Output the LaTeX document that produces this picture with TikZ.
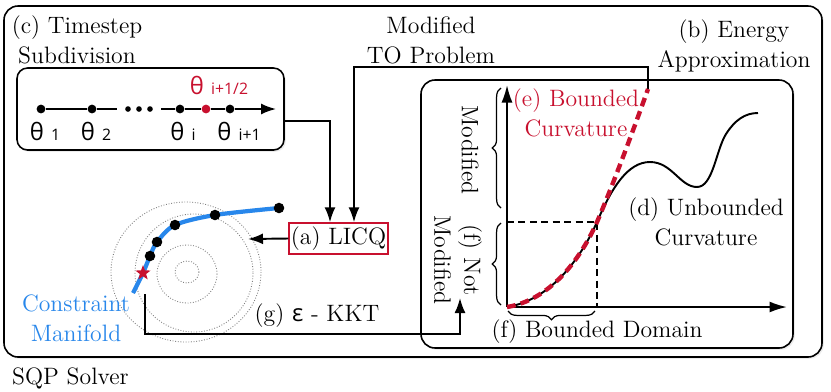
\documentclass[tikz,border=0pt]{standalone}
\usepackage{fontspec}
\newfontfamily\sansth{Open Sans}
\usetikzlibrary{arrows.meta,positioning,shapes.geometric,decorations.pathreplacing,shadows}
\definecolor{licqred}{RGB}{200,16,46}
\definecolor{manblue}{RGB}{40,135,235}
\newcommand\thl[1]{{\sansth θ\hspace{0.3em}{\fontsize{9}{9}\selectfont #1}}}

\begin{document}
\begin{tikzpicture}[x=0.2mm,y=-0.2mm,
  font=\fontsize{13.5}{17}\selectfont,
  >={Latex[length=3mm,width=2.2mm]},
  panel/.style={draw,line width=0.9pt,fill=white,
    drop shadow={opacity=0.15,shadow xshift=1pt,shadow yshift=-1pt}},
  tdot/.style={circle,fill,inner sep=0pt,minimum size=5pt},
  cdot/.style={circle,fill,inner sep=0pt,minimum size=6pt},
  conn/.style={line width=1.1pt,->},
  axis/.style={line width=1.1pt,-{Latex[length=3.5mm,width=2.2mm]}},
  lvl/.style={gray,densely dotted,line width=0.5pt},
  brc/.style={decorate,decoration={brace,amplitude=5pt},line width=0.7pt}]
\useasboundingbox (0,0) rectangle (831,391);
% Panneaux
\draw[panel,rounded corners=8pt] (4,6) rectangle (822,357);
\draw[panel,rounded corners=8pt] (421,80) rectangle (793,348);
\node[panel,rounded corners=6pt,minimum width=53.4mm,minimum height=16.4mm] (tsbox) at (150.5,109) {};
\node[draw=licqred,line width=0.8pt,fill=white,minimum width=19.8mm,minimum height=6.2mm,inner sep=1pt] (licq) at (338.5,238.5) {(a) LICQ};
% Titres
\node[align=center] (ctitle) at (77,40) {(c) Timestep\\Subdivision};
\node[align=center] (totitle) at (431,40) {Modified\\TO Problem};
\node[align=center] (btitle) at (734,46) {(b) Energy\\Approximation};
\node[anchor=west] (sqp) at (6,378) {SQP Solver};
% Subdivision du pas de temps
\node[tdot] (t1) at (41,109) {};
\node[tdot] (t2) at (92,109) {};
\coordinate (gapl) at (117,109);
\coordinate (gapr) at (161,109);
\node[tdot] (ti) at (180,109) {};
\node[tdot,fill=licqred] (th) at (206,109) {};
\node[tdot] (tj) at (230,109) {};
\coordinate (tend) at (276,109);
\draw[line width=1pt] (t1) -- (t2) -- (gapl);
\draw[line width=1pt,->] (gapr) -- (ti) -- (th) -- (tj) -- (tend);
\foreach \x in {128,139,150} \fill (\x,109) circle (1.6pt);
\node[below=1pt of t1,xshift=0.8mm] (l1) {\thl{1}};
\node[below=1pt of t2,xshift=0.8mm] (l2) {\thl{2}};
\node[below=1pt of ti,xshift=0.6mm] (li) {\thl{i}};
\node[below=1pt of tj,xshift=1.8mm] (lj) {\thl{i+1}};
\node[above=2pt of th,xshift=2.6mm,text=licqred] (lh) {\thl{i+1/2}};
% Variete de contraintes
\draw[lvl] (187,272) ellipse (12 and 11);
\draw[lvl] (187,274) ellipse (30 and 29);
\draw[lvl] (194,273) ellipse (59 and 59);
\draw[lvl] (186,272) ellipse (75 and 70);
\draw[manblue,line width=2.4pt] plot[smooth] coordinates {(133,293) (143,273) (150,256) (157,242) (175,225) (215,215) (279,208)};
\node[cdot] (m1) at (150,256) {};
\node[cdot] (m2) at (157,242) {};
\node[cdot] (m3) at (175,225) {};
\node[cdot] (m4) at (215,215) {};
\node[cdot] (m5) at (279,208) {};
\node[star,star points=5,star point ratio=2.4,fill=licqred,inner sep=0pt,minimum size=9pt] (opt) at (143,273) {};
\node[align=center,text=manblue] (cman) at (76,318) {Constraint\\Manifold};
% Fleches
\coordinate (etop) at (648,89);
\coordinate (lvlset) at (248,239);
\coordinate (kkts) at (145,294);
\coordinate (kkte) at (460,298);
\draw[conn] ([yshift=-2.4mm]tsbox.east) -| ([xshift=-1.7mm]licq.north);
\draw[conn] (etop) -- ++(0,-22) -| ([xshift=3.1mm]licq.north);
\draw[conn] (licq.west) -- (lvlset);
\draw[conn] (kkts) -- ++(0,40) -| (kkte);
\node (kkt) at (317,316) {(g) {\sansth ε} - KKT};
% Approximation de l'energie
\coordinate (O) at (507,307);
\coordinate (ytip) at (507,85);
\coordinate (xtip) at (787,307);
\draw[axis] (O) -- (ytip);
\draw[axis] (O) -- (xtip);
\draw[line width=1.5pt,dash pattern=on 4pt off 2.5pt] (507,222) -- (597,222) -- (597,307);
\draw[line width=1.1pt] (O) .. controls (550,300) and (580,260) .. (597,222)
  .. controls (612,187) and (628,162) .. (650,162)
  .. controls (672,162) and (680,187) .. (697,187)
  .. controls (713,187) and (716,150) .. (726,134)
  .. controls (735,120) and (745,113) .. (758,113);
\draw[licqred,line width=2.5pt,dash pattern=on 5pt off 3pt] (O) .. controls (550,300) and (580,260) .. (597,222)
  .. controls (612,187) and (632,134) .. (etop);
\draw[brc] (501,208) -- (501,88);
\draw[brc] (501,305) -- (501,223);
\draw[brc] (595,311) -- (508,311);
\node[rotate=-90] (modup) at (470,150) {Modified};
\node[rotate=-90,align=center] (notmod) at (458,260) {(f) Not\\Modified};
\node[align=center,text=licqred] (ecurv) at (576,113) {(e) Bounded\\Curvature};
\node[align=center] (dcurv) at (706,222) {(d) Unbounded\\Curvature};
\node (fdom) at (597,332) {(f) Bounded Domain};
\end{tikzpicture}
\end{document}
